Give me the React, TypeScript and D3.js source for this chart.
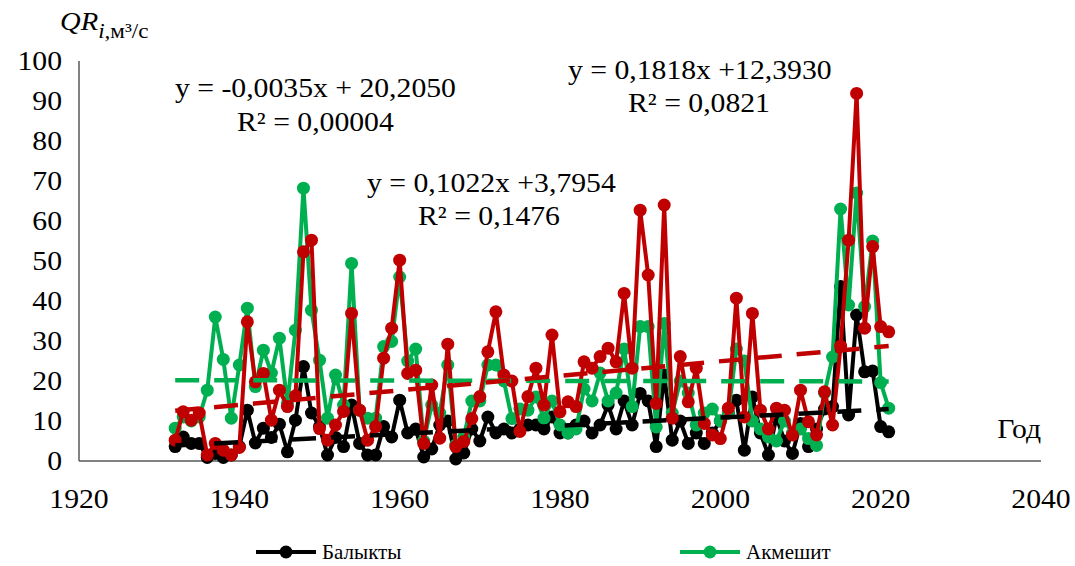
import React, { useEffect, useRef } from 'react';
import * as d3 from 'd3';

// annual values, 1932..2021
const firstYear = 1932;

const balykty = [
  3.6, 6, 4.4, 4.4, 0.9, 1.9, 0.9, 1.5, 3.6, 12.7,
  4.5, 8.2, 5.9, 9.2, 2.3, 10.2, 23.6, 12, 8.6, 1.5,
  5.9, 3.6, 14, 4.4, 1.5, 1.5, 8.6, 6, 15.2, 7,
  8, 1, 3, 9, 10, 0.5, 2, 8, 5, 11,
  7, 8, 7, 8, 9, 9, 8, 11, 7, 7,
  9, 10, 7, 9, 14, 8, 15, 9, 16.9, 15,
  3.6, 21.5, 5.2, 10, 4.4, 7, 4.4, 7, 10, 12,
  15.2, 2.7, 16, 7, 1.5, 11, 5, 1.9, 9.4, 3.6,
  8, 13, 13.6, 43.6, 11.5, 36.5, 22.3, 22.5, 8.6, 7.3,
];

const akmeshit = [
  8.2, 11, 10, 11, 17.7, 36, 25.4, 10.7, 24, 38.2,
  18.6, 27.7, 22, 30.7, 14.4, 32.7, 68.2, 37.7, 25.2, 10.7,
  21.5, 14, 49.4, 12.7, 10.7, 10.7, 28.6, 29.9, 46, 25,
  28, 5, 14, 12, 24, 4, 6, 15, 15, 24,
  24, 20, 10.6, 13, 12.7, 16, 10.7, 15, 9, 7,
  8, 18, 15, 22, 15, 17, 28, 13.6, 33.6, 33.6,
  8.5, 34.4, 12, 20, 17, 9, 12, 13, 10, 12,
  28, 25, 10, 8, 6, 5, 10, 7, 8, 5.6,
  3.9, 17, 26, 63, 39, 67, 38.6, 55, 19.6, 13.2,
];

// third station (red), its legend entry is cut off in the source
const station3 = [
  5.2, 12.3, 10.2, 12, 1.5, 4.4, 2.7, 1.5, 3.4, 34.8,
  19.8, 21.9, 10.2, 17.7, 13.6, 16.3, 52.3, 55.2, 8.1, 5.2,
  9, 12.4, 36.9, 12.7, 5.2, 8.6, 25.7, 33.2, 50.2, 21.9,
  22.7, 4.4, 19, 5.7, 29.2, 3.6, 4.9, 10.6, 16.1, 27.3,
  37.3, 21.5, 20, 7.4, 16.1, 23.2, 14, 31.5, 12.3, 14.8,
  13.6, 24.8, 23.2, 26.1, 28.2, 24.8, 41.9, 23.2, 62.7, 46.5,
  14.4, 64, 10.7, 26.1, 14.8, 23.2, 9.4, 6.5, 5.6, 13.2,
  40.7, 11, 36.9, 12.7, 8, 13.2, 12.7, 6.5, 17.7, 9.8,
  6.5, 17.3, 9, 28.7, 55.2, 91.9, 33.2, 53.6, 33.6, 32.3,
];

const seriesNames = ['Балыкты', 'Акмешит'];

// linear trends as printed on the chart (x = year index from 1)
const trendSlopes = [0.1022, -0.0035, 0.1818];
const trendIntercepts = [3.7954, 20.205, 12.393];
const eqLabels = ['y = 0,1022x +3,7954', 'y = -0,0035x + 20,2050', 'y = 0,1818x +12,3930'];
const r2Labels = ['R² = 0,1476', 'R² = 0,00004', 'R² = 0,0821'];

const xTicks = [1920, 1940, 1960, 1980, 2000, 2020, 2040];
const yTicks = [0, 10, 20, 30, 40, 50, 60, 70, 80, 90, 100];

const FONT = '"Liberation Serif", "Times New Roman", serif';
const STRETCH = 1.1; // source picture is a bit wider than tall

export default function App() {
  const ref = useRef<SVGSVGElement>(null);

  useEffect(() => {
    const svg = d3.select(ref.current);
    svg.selectAll('*').remove();

    const x = d3.scaleLinear().domain([1920, 2040]).range([79, 1041]);
    const y = d3.scaleLinear().domain([0, 100]).range([461, 61]);

    const colors = ['#000000', '#00B050', '#C00000'];
    const all = [balykty, akmeshit, station3];
    const years = balykty.map((_, i) => firstYear + i);

    const label = (px: number, py: number, str: string, anchor = 'start', size = 27) =>
      svg.append('text')
        .attr('transform', `translate(${px},${py}) scale(${STRETCH},1)`)
        .attr('text-anchor', anchor)
        .attr('font-family', FONT)
        .attr('font-size', size)
        .text(str);

    // axes
    svg.append('line')
      .attr('x1', x(1920)).attr('x2', x(1920))
      .attr('y1', y(100)).attr('y2', y(0))
      .attr('stroke', '#595959').attr('stroke-width', 1.5);
    svg.append('line')
      .attr('x1', x(1920)).attr('x2', x(2040))
      .attr('y1', y(0)).attr('y2', y(0))
      .attr('stroke', '#595959').attr('stroke-width', 1.5);

    yTicks.forEach(d => label(62, y(d) + 9, String(d), 'end'));
    xTicks.forEach(d => label(x(d), 508, String(d), 'middle'));
    label(x(2040), 438, 'Год', 'end');

    const title = svg.append('text')
      .attr('transform', `translate(60,30) scale(${STRETCH},1)`)
      .attr('font-family', FONT).attr('font-size', 26);
    title.append('tspan').attr('font-style', 'italic').text('QR');
    title.append('tspan').attr('font-style', 'italic').attr('font-size', 21).attr('dy', 8).text('i,');
    title.append('tspan').attr('font-size', 21).text('м³/с');

    // series
    const line = d3.line<number>()
      .x((_, i) => x(years[i]))
      .y(d => y(d));

    all.forEach((vals, s) => {
      const g = svg.append('g');
      g.append('path')
        .datum(vals)
        .attr('fill', 'none')
        .attr('stroke', colors[s])
        .attr('stroke-width', 4)
        .attr('stroke-linejoin', 'round')
        .attr('d', line);
      g.selectAll('circle').data(vals).join('circle')
        .attr('cx', (_, i) => x(years[i]))
        .attr('cy', d => y(d))
        .attr('r', 6.5)
        .attr('fill', colors[s]);
    });

    // trend lines
    all.forEach((vals, s) => {
      const n = vals.length;
      svg.append('line')
        .attr('x1', x(years[0]))
        .attr('y1', y(trendIntercepts[s] + trendSlopes[s] * 1))
        .attr('x2', x(years[n - 1]))
        .attr('y2', y(trendIntercepts[s] + trendSlopes[s] * n))
        .attr('stroke', colors[s])
        .attr('stroke-width', 4.5)
        .attr('stroke-dasharray', '24 15');
    });

    // trend equations
    const eqPos = [[367, 192, 418, 225], [175, 97, 237, 131], [568, 79, 628, 112]];
    eqPos.forEach((p, i) => {
      label(p[0], p[1], eqLabels[i]);
      label(p[2], p[3], r2Labels[i]);
    });

    // legend
    const legX = [256, 680];
    seriesNames.forEach((name, i) => {
      const g = svg.append('g');
      g.append('line')
        .attr('x1', legX[i]).attr('x2', legX[i] + 60)
        .attr('y1', 552).attr('y2', 552)
        .attr('stroke', colors[i]).attr('stroke-width', 4);
      g.append('circle')
        .attr('cx', legX[i] + 30).attr('cy', 552).attr('r', 6.5)
        .attr('fill', colors[i]);
      g.append('text')
        .attr('x', legX[i] + 66).attr('y', 559)
        .attr('font-family', FONT).attr('font-size', 21)
        .text(name);
    });
  }, []);

  return (
    <svg
      ref={ref}
      width={1075}
      height={566}
      style={{ position: 'absolute', left: 0, top: 0, background: '#fff' }}
    />
  );
}
